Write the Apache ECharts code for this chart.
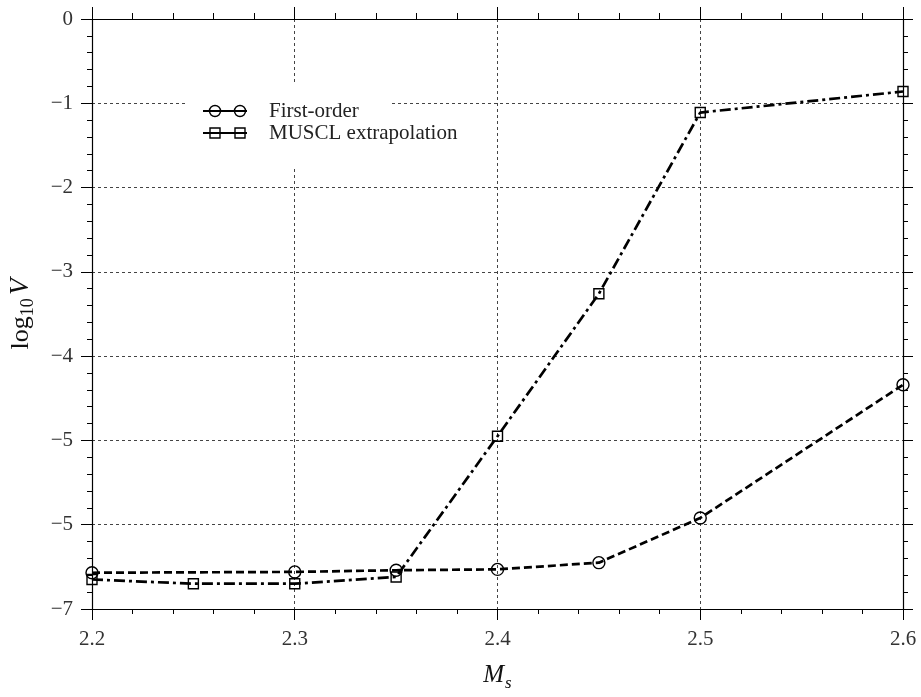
<!DOCTYPE html>
<html>
<head>
<meta charset="utf-8">
<script src="https://cdn.jsdelivr.net/npm/echarts@6/dist/echarts.min.js"></script>
<style>
  html, body { margin: 0; padding: 0; background: #fff; }
  #chart { width: 921px; height: 697px; }
</style>
</head>
<body>
<div id="chart"></div>
<script>
// Shock Mach number vs. log10 of the instability measure
const firstOrderMs   = [2.2, 2.3, 2.35, 2.4, 2.45, 2.5, 2.6];
const firstOrderLogV = [-6.57, -6.56, -6.54, -6.53, -6.45, -5.92, -4.34];

const musclMs   = [2.2, 2.25, 2.3, 2.35, 2.4, 2.45, 2.5, 2.6];
const musclLogV = [-6.65, -6.70, -6.70, -6.62, -4.95, -3.26, -1.11, -0.86];

const seriesNames = ['First-order', 'MUSCL extrapolation'];
const yTickLabels = ['0', '\u22121', '\u22122', '\u22123', '\u22124', '\u22125', '\u22125', '\u22127'];
const xTickLabels = ['2.2', '2.3', '2.4', '2.5', '2.6'];

const FONT = '"Liberation Serif", "Times New Roman", serif';
const INK = '#000';

const pairs = (xs, ys) => xs.map((x, i) => [x, ys[i]]);

const chart = echarts.init(document.getElementById('chart'));

const gridDash = { color: '#444', width: 1, type: [3, 3] };

const baseX = {
  type: 'value', min: 2.2, max: 2.6, interval: 0.1,
  axisLine: { show: true, onZero: false, lineStyle: { color: INK, width: 1.2 } },
  minorTick: { show: true, splitNumber: 5, lineStyle: { color: INK, width: 1 } },
  minorSplitLine: { show: false }
};
const baseY = {
  type: 'value', min: -7, max: 0, interval: 1,
  axisLine: { show: true, onZero: false, lineStyle: { color: INK, width: 1.2 } },
  minorTick: { show: true, splitNumber: 5, lineStyle: { color: INK, width: 1 } },
  minorSplitLine: { show: false }
};

const legendRows = [
  { y: 111, name: seriesNames[0], mark: 'circle' },
  { y: 133, name: seriesNames[1], mark: 'rect' }
];
const legendChildren = [{
  type: 'rect', z: 50,
  shape: { x: 185, y: 82, width: 205, height: 84 },
  style: { fill: '#fff' }
}];
legendRows.forEach(row => {
  legendChildren.push({
    type: 'line', z: 51,
    shape: { x1: 203, y1: row.y, x2: 247, y2: row.y },
    style: { stroke: INK, lineWidth: 2 }
  });
  [215, 240].forEach(cx => {
    if (row.mark === 'circle') {
      legendChildren.push({
        type: 'circle', z: 52,
        shape: { cx: cx, cy: row.y, r: 5.5 },
        style: { fill: 'none', stroke: INK, lineWidth: 1.4 }
      });
    } else {
      legendChildren.push({
        type: 'rect', z: 52,
        shape: { x: cx - 5, y: row.y - 5, width: 10, height: 10 },
        style: { fill: 'none', stroke: INK, lineWidth: 1.4 }
      });
    }
  });
  legendChildren.push({
    type: 'text', z: 52, x: 269, y: row.y,
    style: {
      text: row.name, fill: '#222',
      font: '21px ' + FONT, verticalAlign: 'middle', align: 'left'
    }
  });
});

chart.setOption({
  animation: false,
  backgroundColor: '#fff',
  grid: { left: 92, right: 18, top: 19, bottom: 88, containLabel: false, outerBoundsMode: 'none' },
  xAxis: [
    Object.assign({}, baseX, {
      position: 'bottom',
      name: '{m|M}{s|s}',
      nameLocation: 'middle', nameGap: 50,
      nameTextStyle: {
        rich: {
          m: { fontFamily: FONT, fontSize: 25, fontStyle: 'italic', color: '#111' },
          s: { fontFamily: FONT, fontSize: 17, fontStyle: 'italic', color: '#111', padding: [16, 0, 0, 1] }
        }
      },
      axisTick: { show: true, inside: false, length: 11, lineStyle: { color: INK, width: 1 } },
      minorTick: { show: true, splitNumber: 5, length: 5, lineStyle: { color: INK, width: 1 } },
      axisLabel: {
        show: true, margin: 20, color: '#333', fontFamily: FONT, fontSize: 21,
        showMinLabel: true, showMaxLabel: true,
        formatter: v => xTickLabels[Math.round((v - 2.2) * 10)]
      },
      splitLine: { show: true, lineStyle: gridDash }
    }),
    Object.assign({}, baseX, {
      position: 'top',
      axisTick: { show: true, inside: false, length: 12, lineStyle: { color: INK, width: 1 } },
      minorTick: { show: true, splitNumber: 5, length: 6, lineStyle: { color: INK, width: 1 } },
      axisLabel: { show: false },
      splitLine: { show: false }
    })
  ],
  yAxis: [
    Object.assign({}, baseY, {
      position: 'left',
      name: '{a|log}{b|10} {c|V}',
      nameLocation: 'middle', nameGap: 55, nameRotate: 90,
      nameTextStyle: {
        rich: {
          a: { fontFamily: FONT, fontSize: 26, color: '#111' },
          b: { fontFamily: FONT, fontSize: 18, color: '#111', padding: [14, 0, 0, 0] },
          c: { fontFamily: FONT, fontSize: 27, fontStyle: 'italic', color: '#111' }
        }
      },
      axisTick: { show: true, inside: false, length: 11, lineStyle: { color: INK, width: 1 } },
      minorTick: { show: true, splitNumber: 5, length: 5, lineStyle: { color: INK, width: 1 } },
      axisLabel: {
        show: true, margin: 19, color: '#333', fontFamily: FONT, fontSize: 21,
        showMinLabel: true, showMaxLabel: true,
        formatter: v => yTickLabels[Math.round(-v)]
      },
      splitLine: { show: true, lineStyle: gridDash }
    }),
    Object.assign({}, baseY, {
      position: 'right',
      axisTick: { show: true, inside: false, length: 10, lineStyle: { color: INK, width: 1 } },
      minorTick: { show: true, splitNumber: 5, length: 5, lineStyle: { color: INK, width: 1 } },
      axisLabel: { show: false },
      splitLine: { show: false }
    })
  ],
  graphic: [{ type: 'group', z: 50, children: legendChildren }],
  series: [
    {
      name: seriesNames[0], type: 'line',
      xAxisIndex: 0, yAxisIndex: 0,
      data: pairs(firstOrderMs, firstOrderLogV),
      symbol: 'circle', symbolSize: 12, showAllSymbol: true,
      lineStyle: { color: INK, width: 2.7, type: [8, 4] },
      itemStyle: { color: 'rgba(0,0,0,0)', borderColor: INK, borderWidth: 1.4 },
      emphasis: { disabled: true },
      clip: true, z: 3
    },
    {
      name: seriesNames[1], type: 'line',
      xAxisIndex: 0, yAxisIndex: 0,
      data: pairs(musclMs, musclLogV),
      symbol: 'rect', symbolSize: 10, showAllSymbol: true,
      lineStyle: { color: INK, width: 2.7, type: [11, 4, 3, 4] },
      itemStyle: { color: 'rgba(0,0,0,0)', borderColor: INK, borderWidth: 1.4 },
      emphasis: { disabled: true },
      clip: true, z: 3
    }
  ]
});
</script>
</body>
</html>
